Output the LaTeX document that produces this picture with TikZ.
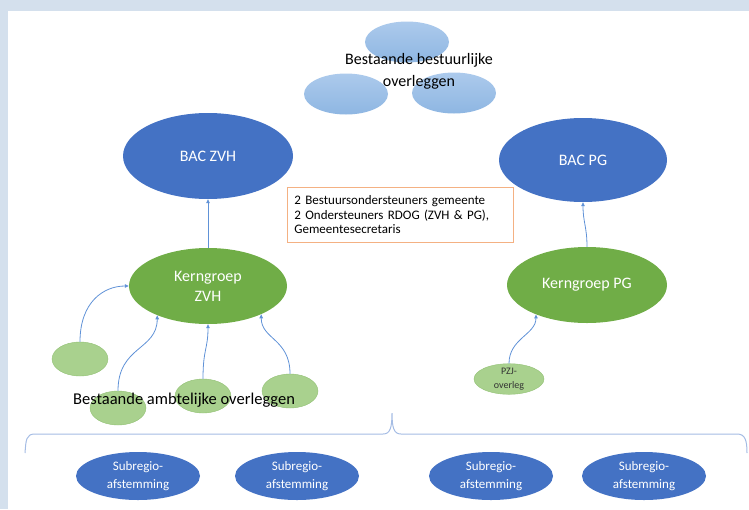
\documentclass[tikz,border=0pt]{standalone}
\usepackage{fontspec}
\setmainfont{Carlito}
\usetikzlibrary{shapes.geometric,arrows.meta}
\definecolor{bacblue}{RGB}{68,114,196}
\definecolor{kerngreen}{RGB}{112,173,71}
\definecolor{lightgreen}{RGB}{169,209,142}
\definecolor{edgegreen}{RGB}{145,192,115}
\definecolor{wolktop}{RGB}{172,202,236}
\definecolor{wolkbottom}{RGB}{142,182,226}
\definecolor{pijlblue}{RGB}{96,146,215}
\definecolor{boxorange}{RGB}{244,177,131}
\definecolor{braceblue}{RGB}{164,188,228}
\definecolor{frameblue}{RGB}{212,224,237}
\begin{document}
\begin{tikzpicture}[x=1pt,y=-1pt,every node/.style={inner sep=0pt},
  bac/.style={ellipse,fill=bacblue,text=white,font=\fontsize{16}{20}\selectfont},
  kern/.style={ellipse,fill=kerngreen,text=white,align=center,font=\fontsize{16}{20}\selectfont},
  wolk/.style={ellipse,top color=wolktop,bottom color=wolkbottom,minimum width=84pt,minimum height=41pt},
  klein/.style={ellipse,fill=lightgreen,draw=edgegreen,line width=0.4pt,minimum width=56pt,minimum height=34pt},
  sub/.style={ellipse,fill=bacblue,text=white,align=center,minimum width=124pt,minimum height=48pt,font=\fontsize{13}{18}\selectfont},
  pijl/.style={draw=pijlblue,line width=0.8pt,-{Triangle[length=4pt,width=3.5pt]}}]
\useasboundingbox (0,0) rectangle (749,509);
\fill[frameblue] (0,0) rectangle (749,11);
\fill[frameblue] (0,0) rectangle (8,509);
% bestuurlijke overleggen
\node[wolk] (wolk1) at (407,42) {};
\node[wolk] (wolk2) at (346,94) {};
\node[wolk] (wolk3) at (454,93) {};
\node[align=center,font=\fontsize{16}{22}\selectfont] (bestuurlijk) at (419,71) {Bestaande bestuurlijke\\overleggen};
% BAC
\node[bac,minimum width=170pt,minimum height=86pt] (bzvh) at (208,156) {BAC ZVH};
\node[bac,minimum width=168pt,minimum height=84pt] (bpg) at (583,160) {BAC PG};
\node[draw=boxorange,line width=0.8pt,anchor=north west,text width=212pt,inner xsep=7pt,minimum height=55pt,align=left,font=\fontsize{13}{14.5}\selectfont] (info) at (287,187) {2 Bestuursondersteuners gemeente\\2 Ondersteuners RDOG (ZVH \& PG),\\Gemeentesecretaris};
% kerngroepen
\node[kern,minimum width=158pt,minimum height=76pt] (kzvh) at (208,286) {Kerngroep\\ZVH};
\node[kern,minimum width=160pt,minimum height=76pt] (kpg) at (587,285) {Kerngroep PG};
\draw[pijl] (kzvh.north) -- (bzvh.south);
\draw[pijl] (kpg.north) .. controls +(0,-20) and +(0,20) .. (bpg.south);
% ambtelijke overleggen
\node[klein] (ambt1) at (80,359) {};
\node[klein] (ambt2) at (118,408) {};
\node[klein] (ambt3) at (203,396) {};
\node[klein] (ambt4) at (290,391) {};
\node[klein,minimum width=70pt,minimum height=30pt,align=center,text=black!80,font=\fontsize{10}{13.5}\selectfont] (pzj) at (509,379) {PZJ-\\overleg};
\draw[pijl] (ambt1.north) .. controls +(0,-40) and +(-25,0) .. (kzvh.west);
\draw[pijl] (ambt2.north) .. controls +(0,-45) and +(0,35) .. (kzvh.-150);
\draw[pijl] (ambt3.north) .. controls +(0,-30) and +(0,25) .. (kzvh.south);
\draw[pijl] (ambt4.north) .. controls +(0,-35) and +(0,25) .. (kzvh.-28);
\draw[pijl] (pzj.north) .. controls +(0,-25) and +(0,20) .. (kpg.-150);
\node[font=\fontsize{16.5}{20}\selectfont] (ambtelijk) at (184,400) {Bestaande ambtelijke overleggen};
% accolade
\draw[braceblue,line width=1pt] (25,453) .. controls (26,440) and (26,434) .. (35,434) -- (383,434)
  .. controls (390,434) and (392,428) .. (392,413) .. controls (392,428) and (394,434) .. (401,434)
  -- (737,434) .. controls (745,434) and (747,440) .. (747,453);
% subregio
\node[sub] (sub1) at (138,476) {Subregio-\\afstemming};
\node[sub] (sub2) at (297,476) {Subregio-\\afstemming};
\node[sub] (sub3) at (491,476) {Subregio-\\afstemming};
\node[sub] (sub4) at (644,476) {Subregio-\\afstemming};
\end{tikzpicture}
\end{document}
